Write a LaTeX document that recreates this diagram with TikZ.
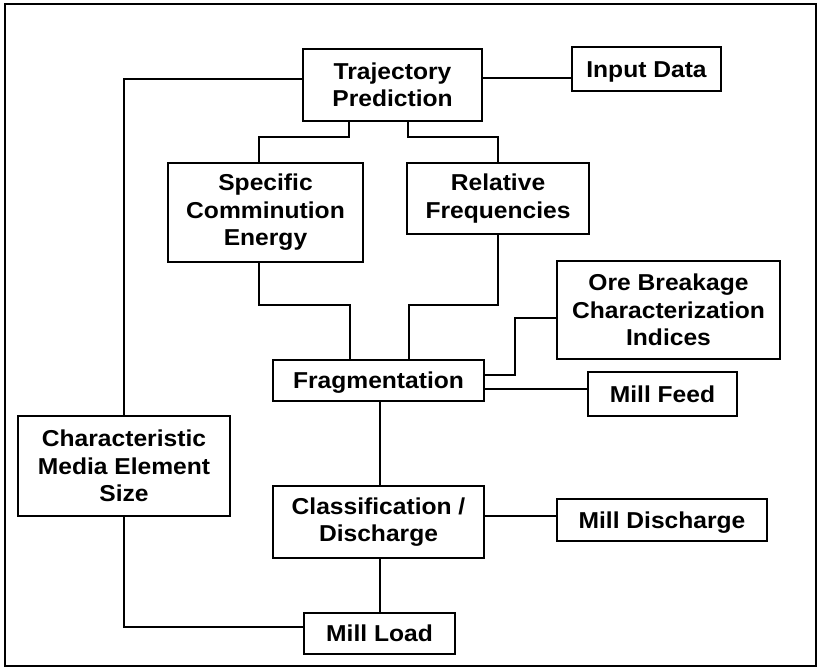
\documentclass[tikz,border=0pt]{standalone}
\usepackage{fontspec}
\setmainfont[FakeStretch=1.07]{Liberation Sans}
\begin{document}
\begin{tikzpicture}[x=1pt,y=-1pt,
  box/.style={draw, line width=1.3pt, rectangle, align=center, inner sep=0pt,
    font=\fontsize{23}{27.5}\selectfont\bfseries},
  oneline/.style={text height=16.5pt, text depth=0pt},
  link/.style={line width=1.2pt}]
\useasboundingbox (0,0) rectangle (818,668);
\draw[line width=1.2pt] (5,4) rectangle (816,666);

\node[box, minimum width=179pt, minimum height=72pt] (traj) at (392.5,85) {Trajectory\\Prediction};
\node[box, oneline, minimum width=149pt, minimum height=44pt] (input) at (646.5,69) {Input Data};
\node[box, minimum width=195pt, minimum height=99pt] (spec) at (265.5,212.5) {Specific\\Comminution\\Energy};
\node[box, minimum width=182pt, minimum height=71pt] (rel) at (498,198.5) {Relative\\Frequencies};
\node[box, minimum width=223pt, minimum height=98pt] (ore) at (668.5,310) {Ore Breakage\\Characterization\\Indices};
\node[box, oneline, minimum width=211pt, minimum height=41pt] (frag) at (378.5,380.5) {Fragmentation};
\node[box, oneline, minimum width=149pt, minimum height=44pt] (feed) at (662.5,394) {Mill Feed};
\node[box, minimum width=212pt, minimum height=100pt] (char) at (124,466) {Characteristic\\Media Element\\Size};
\node[box, minimum width=211pt, minimum height=72pt] (class) at (378.5,522) {Classification /\\Discharge};
\node[box, oneline, minimum width=210pt, minimum height=42pt] (disch) at (662,520) {Mill Discharge};
\node[box, oneline, minimum width=151pt, minimum height=41pt] (load) at (379.5,633.5) {Mill Load};

\draw[link] (traj.west |- 0,79) -| (char.north);
\draw[link] (traj.east |- 0,78) -- (input.west |- 0,78);
\draw[link] (traj.south -| 349,0) |- (259,137) -- (spec.north -| 259,0);
\draw[link] (traj.south -| 408,0) |- (rel.north |- 0,137) -- (rel.north);
\draw[link] (spec.south -| 259,0) |- (350,305) -- (frag.north -| 350,0);
\draw[link] (rel.south) |- (409,305) -- (frag.north -| 409,0);
\draw[link] (frag.east |- 0,375) -| (515,318) -- (ore.west |- 0,318);
\draw[link] (frag.east |- 0,389) -- (feed.west |- 0,389);
\draw[link] (frag.south -| 380,0) -- (class.north -| 380,0);
\draw[link] (class.east |- 0,516) -- (disch.west |- 0,516);
\draw[link] (class.south -| 380,0) -- (load.north -| 380,0);
\draw[link] (load.west |- 0,627) -| (char.south);
\end{tikzpicture}
\end{document}
